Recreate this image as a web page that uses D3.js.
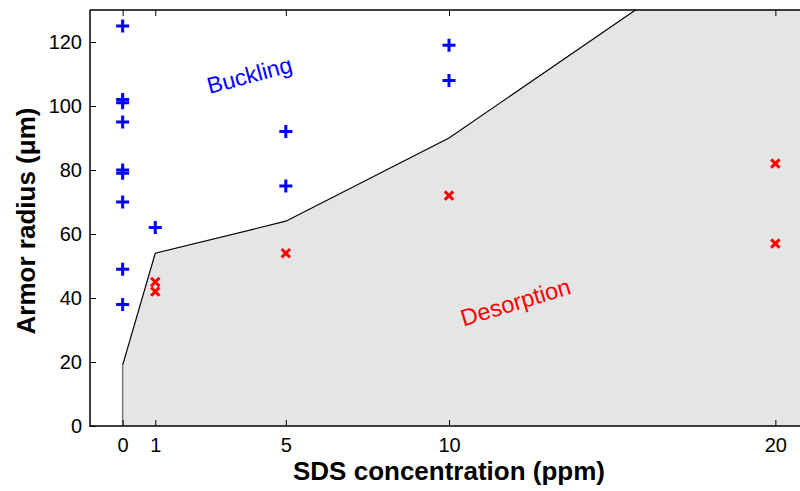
<!DOCTYPE html>
<html><head><meta charset="utf-8">
<script src="https://cdn.jsdelivr.net/npm/d3@7"></script>
<style>body{margin:0;background:#fff}svg{display:block;font-family:"Liberation Sans",Arial,sans-serif}</style>
</head><body><svg id="c" width="800" height="491"></svg>
<script>
const xTicks = [0, 1, 5, 10, 20];
const yTicks = [0, 20, 40, 60, 80, 100, 120];
const boundaryX = [0, 0, 1, 5, 10, 22];
const boundaryY = [0, 19, 54, 64, 90, 174];
const bucklingX = [0, 0, 0, 0, 0, 0, 0, 0, 0, 1, 5, 5, 10, 10];
const bucklingY = [125, 102, 101, 95, 80, 79, 70, 49, 38, 62, 92, 75, 119, 108];
const desorptionX = [1, 1, 5, 10, 20, 20];
const desorptionY = [45, 42, 54, 72, 82, 57];

const svg = d3.select("#c");
const L = 90, R = 808, T = 10, B = 426;
const x = d3.scaleLinear().domain([-1, 21]).range([L, R]);
const y = d3.scaleLinear().domain([0, 130]).range([B, T]);

svg.append("defs").append("clipPath").attr("id", "clip")
  .append("rect").attr("x", L).attr("y", T).attr("width", R - L).attr("height", B - T);

const g = svg.append("g").attr("clip-path", "url(#clip)");
const pts = boundaryX.map((d, i) => [d, boundaryY[i]]);
const area = d3.area().x(d => x(d[0])).y0(y(0)).y1(d => y(d[1]));
g.append("path").datum(pts).attr("d", area).attr("fill", "#e5e5e5");
g.append("path").datum(pts.slice(1)).attr("d", d3.line().x(d => x(d[0])).y(d => y(d[1])))
  .attr("fill", "none").attr("stroke", "#000").attr("stroke-width", 1.2);
g.append("line").attr("x1", x(0)).attr("x2", x(0)).attr("y1", y(0)).attr("y2", y(19))
  .attr("stroke", "#777").attr("stroke-width", 1.5);

// axes frame
svg.append("path").attr("d", `M${L},${T}H${R}M${L},${T}V${B}H${R}`)
  .attr("fill", "none").attr("stroke", "#000").attr("stroke-width", 1.5);

const xb = svg.append("g").attr("transform", `translate(0,${B})`)
  .call(d3.axisBottom(x).tickValues(xTicks).tickSize(-6).tickPadding(12).tickFormat(d3.format("d")));
const xt = svg.append("g").attr("transform", `translate(0,${T})`)
  .call(d3.axisTop(x).tickValues(xTicks).tickSize(-6).tickFormat(""));
const yl = svg.append("g").attr("transform", `translate(${L},0)`)
  .call(d3.axisLeft(y).tickValues(yTicks).tickSize(-6).tickPadding(8).tickFormat(d3.format("d")));
[xb, xt, yl].forEach(a => {
  a.select(".domain").remove();
  a.selectAll(".tick line").attr("stroke", "#000").attr("stroke-width", 1);
  a.selectAll(".tick text").attr("font-size", 20).attr("fill", "#000")
    .attr("font-family", '"Liberation Sans",Arial,sans-serif');
});

// markers
const mg = svg.append("g").attr("clip-path", "url(#clip)");
bucklingX.forEach((d, i) => {
  const cx = x(d), cy = y(bucklingY[i]), s = 6.5;
  mg.append("path").attr("d", `M${cx - s},${cy}H${cx + s}M${cx},${cy - s}V${cy + s}`)
    .attr("stroke", "#0000ff").attr("stroke-width", 3).attr("fill", "none");
});
desorptionX.forEach((d, i) => {
  const cx = x(d), cy = y(desorptionY[i]), s = 4.2;
  mg.append("path").attr("d", `M${cx - s},${cy - s}L${cx + s},${cy + s}M${cx - s},${cy + s}L${cx + s},${cy - s}`)
    .attr("stroke", "#ff0000").attr("stroke-width", 3).attr("fill", "none");
});

svg.append("text").attr("transform", "translate(250,77) rotate(-15)")
  .attr("text-anchor", "middle").attr("dominant-baseline", "middle")
  .attr("font-size", 23).attr("fill", "#0000ff").text("Buckling");
svg.append("text").attr("transform", "translate(516,304) rotate(-17)")
  .attr("text-anchor", "middle").attr("dominant-baseline", "middle")
  .attr("font-size", 23.5).attr("fill", "#ff0000").text("Desorption");

svg.append("text").attr("x", 449).attr("y", 480).attr("text-anchor", "middle")
  .attr("font-size", 26).attr("font-weight", "bold").text("SDS concentration (ppm)");
svg.append("text").attr("transform", "translate(35,221) rotate(-90)").attr("text-anchor", "middle")
  .attr("font-size", 26).attr("font-weight", "bold").text("Armor radius (μm)");
</script></body></html>
